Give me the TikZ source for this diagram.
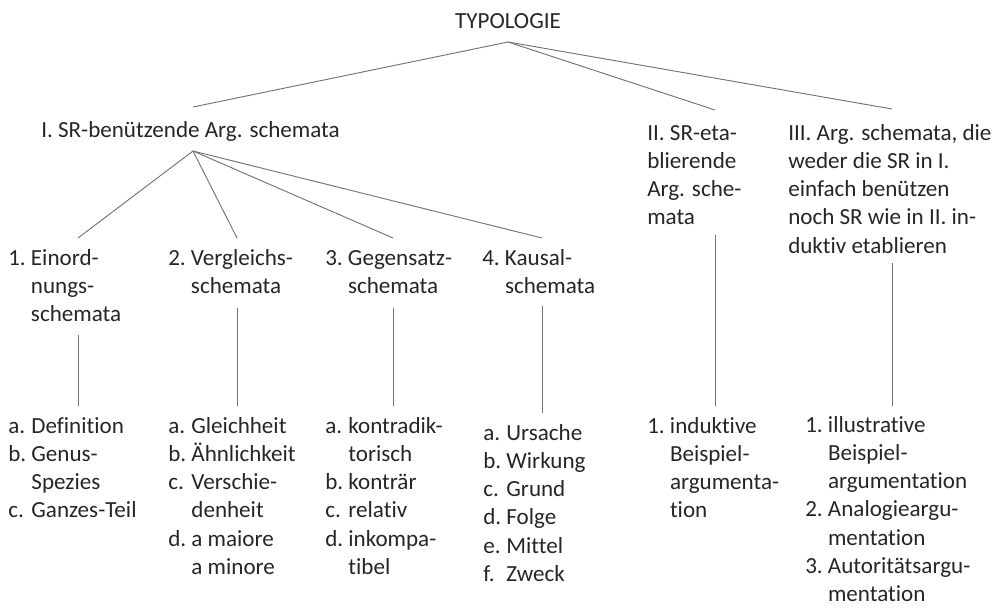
\documentclass[tikz,border=0pt]{standalone}
\usepackage{fontspec}
\setmainfont{Carlito}[Ligatures={NoCommon,NoContextual}]
\usepackage{tikz}
\usetikzlibrary{positioning}

\newcommand{\hanglist}[1]{\begin{tabular}[t]{@{}l@{\ }l@{}}#1\end{tabular}}
\newcommand{\plainlist}[1]{\begin{tabular}[t]{@{}l@{}}#1\end{tabular}}

\begin{document}
\begin{tikzpicture}
	[   x=0.75pt,y=-0.75pt,
	    txt/.style={inner sep=0pt,anchor=base west,text=black!85,font=\fontsize{17.3}{21.2}\selectfont},
	]
	\tikzset{tree line/.style={draw=black!55,line width=0.7pt}}
	\useasboundingbox (0,0) rectangle (1002,607);
	
	\node[txt,anchor=base] (typ) at (508,28) {TYPOLOGIE};
	
	\node[txt] (I) at (41,137) {I. SR-benützende Arg. schemata};
	\node[txt] (II) at (647,140) {\plainlist{II. SR-eta-\\ blierende\\ Arg. sche-\\ mata}};
	\node[txt] (III) at (788,140) {\plainlist{III. Arg. schemata, die\\ weder die SR in I.\\ einfach benützen\\ noch SR wie in II. in-\\ duktiv etablieren}};
	
	\node[txt] (n1) at (8,265) {\hanglist{1.&Einord-\\ &nungs-\\ &schemata}};
	\node[txt] (n2) at (168,265) {\hanglist{2.&Vergleichs-\\ &schemata}};
	\node[txt] (n3) at (325,265) {\hanglist{3.&Gegensatz-\\ &schemata}};
	\node[txt] (n4) at (482,265) {\hanglist{4.&Kausal-\\ &schemata}};
	
	\node[txt] (l1) at (8,433) {\hanglist{a.&Definition\\ b.&Genus-\\ &Spezies\\ c.&Ganzes-Teil}};
	\node[txt] (l2) at (168,433) {\hanglist{a.&Gleichheit\\ b.&Ähnlichkeit\\ c.&Verschie-\\ &denheit\\ d.&a maiore\\ &a minore}};
	\node[txt] (l3) at (325,433) {\hanglist{a.&kontradik-\\ &torisch\\ b.&konträr\\ c.&relativ\\ d.&inkompa-\\ &tibel}};
	\node[txt] (l4) at (483,440) {\hanglist{a.&Ursache\\ b.&Wirkung\\ c.&Grund\\ d.&Folge\\ e.&Mittel\\ f.&Zweck}};
	\node[txt] (l5) at (647,433) {\hanglist{1.&induktive\\ &Beispiel-\\ &argumenta-\\ &tion}};
	\node[txt] (l6) at (805,432) {\hanglist{1.&illustrative\\ &Beispiel-\\ &argumentation\\ 2.&Analogieargu-\\ &mentation\\ 3.&Autoritätsargu-\\ &mentation}};
	
	% line ends
	\coordinate (typ-out) at (508,42);
	\coordinate (I-in) at (193,107);
	\coordinate (I-out) at (193,151);
	\coordinate (II-in) at (715,110);
	\coordinate (II-out) at (715,235);
	\coordinate (III-in) at (892,109);
	\coordinate (III-out) at (892,263);
	\coordinate (n1-in) at (78,238);
	\coordinate (n1-out) at (78,335);
	\coordinate (n2-in) at (237,238);
	\coordinate (n2-out) at (237,308);
	\coordinate (n3-in) at (393,238);
	\coordinate (n3-out) at (393,308);
	\coordinate (n4-in) at (542,238);
	\coordinate (n4-out) at (542,306);
	\coordinate (l1-in) at (78,406);
	\coordinate (l2-in) at (237,406);
	\coordinate (l3-in) at (393,406);
	\coordinate (l4-in) at (542,413);
	\coordinate (l5-in) at (715,406);
	\coordinate (l6-in) at (892,406);
	
	\foreach \c in {I,II,III}
		\path[tree line] (typ-out) -- (\c-in);
	\foreach \c in {n1,n2,n3,n4}
		\path[tree line] (I-out) -- (\c-in);
	\foreach \c/\l in {n1/l1,n2/l2,n3/l3,n4/l4,II/l5,III/l6}
		\path[tree line] (\c-out) -- (\l-in);
\end{tikzpicture}
\end{document}
